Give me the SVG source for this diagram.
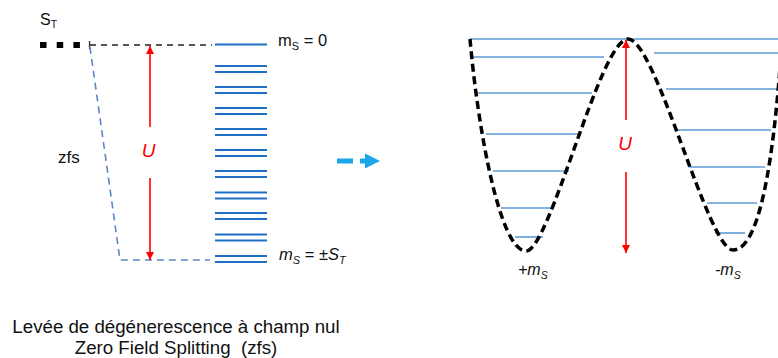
<svg xmlns="http://www.w3.org/2000/svg" width="778" height="358" viewBox="0 0 778 358">
<defs>
<style>
text{font-family:"Liberation Sans",Arial,sans-serif;fill:#111}
.lvl{stroke:#1f6fc4;stroke-width:1.8}
.rl{stroke:#5b9bd5;stroke-width:1.6}
.red{stroke:#ff0000;stroke-width:1.6;fill:none}
.it{font-style:italic}
</style>
<marker id="rh" viewBox="0 0 10 10" refX="10" refY="5" markerWidth="10" markerHeight="8" markerUnits="userSpaceOnUse" orient="auto">
<path d="M0,0 L10,5 L0,10 z" fill="#ff0000"/>
</marker>
</defs>
<rect width="778" height="358" fill="#ffffff"/>

<g id="st-label">
<text x="40" y="25" font-size="16">S<tspan font-size="10.5" dy="3">T</tspan></text>
</g>

<g id="connectors">
<line x1="40" y1="45" x2="81" y2="45" stroke="#000" stroke-width="6" stroke-dasharray="6.5 10.2"/>
<line x1="89.5" y1="41" x2="89.5" y2="49" stroke="#333" stroke-width="1.3"/>
<line x1="90" y1="45" x2="212" y2="45" stroke="#222" stroke-width="1.6" stroke-dasharray="6 5"/>
<polyline points="90,47 120,260 210,260" fill="none" stroke="#5b87c8" stroke-width="1.6" stroke-dasharray="7 5"/>
<line class="red" x1="150" y1="127" x2="150" y2="46" marker-end="url(#rh)"/>
<line class="red" x1="150" y1="178" x2="150" y2="260" marker-end="url(#rh)"/>
<line class="red" x1="626" y1="120" x2="626" y2="40" marker-end="url(#rh)"/>
<line class="red" x1="626" y1="172" x2="626" y2="253" marker-end="url(#rh)"/>
</g>

<g id="zfs-label"><text x="58" y="163" font-size="17">zfs</text></g>
<g id="u-left"><text class="it" x="148.5" y="157" font-size="19" text-anchor="middle" style="fill:#ff0000">U</text></g>

<g id="levels">
<line class="lvl" x1="215" y1="44.5" x2="267" y2="44.5"/>
<line class="lvl" x1="215" y1="66" x2="267" y2="66"/><line class="lvl" x1="215" y1="72" x2="267" y2="72"/>
<line class="lvl" x1="215" y1="87" x2="267" y2="87"/><line class="lvl" x1="215" y1="93" x2="267" y2="93"/>
<line class="lvl" x1="215" y1="108" x2="267" y2="108"/><line class="lvl" x1="215" y1="114" x2="267" y2="114"/>
<line class="lvl" x1="215" y1="129" x2="267" y2="129"/><line class="lvl" x1="215" y1="135" x2="267" y2="135"/>
<line class="lvl" x1="215" y1="150" x2="267" y2="150"/><line class="lvl" x1="215" y1="156" x2="267" y2="156"/>
<line class="lvl" x1="215" y1="171" x2="267" y2="171"/><line class="lvl" x1="215" y1="177" x2="267" y2="177"/>
<line class="lvl" x1="215" y1="192.5" x2="267" y2="192.5"/><line class="lvl" x1="215" y1="198.5" x2="267" y2="198.5"/>
<line class="lvl" x1="215" y1="213" x2="267" y2="213"/><line class="lvl" x1="215" y1="219" x2="267" y2="219"/>
<line class="lvl" x1="215" y1="234.5" x2="267" y2="234.5"/><line class="lvl" x1="215" y1="240.5" x2="267" y2="240.5"/>
<line class="lvl" x1="215" y1="256" x2="267" y2="256"/><line class="lvl" x1="215" y1="262" x2="267" y2="262"/>
</g>

<g id="ms0"><text x="278" y="46" font-size="16.5">m<tspan font-size="11" dy="4">S</tspan><tspan dy="-4"> = 0</tspan></text></g>
<g id="msST"><text x="279" y="260" font-size="16.5"><tspan class="it">m</tspan><tspan class="it" font-size="11" dy="4">S</tspan><tspan dy="-4"> = ±</tspan><tspan class="it">S</tspan><tspan class="it" font-size="11" dy="4">T</tspan></text></g>

<g id="transition-arrow">
<line x1="337" y1="161" x2="366" y2="161" stroke="#1aa7ea" stroke-width="5" stroke-dasharray="16 7"/>
<polygon points="365,153.5 380,161 365,168.5" fill="#1aa7ea"/>
</g>

<g id="well-levels">
<line class="rl" x1="470" y1="39" x2="778" y2="39"/>
<line class="rl" x1="473" y1="57" x2="604" y2="57"/>
<line class="rl" x1="478" y1="93" x2="592" y2="93"/>
<line class="rl" x1="486" y1="134" x2="580" y2="134"/>
<line class="rl" x1="493" y1="171" x2="569" y2="171"/>
<line class="rl" x1="501" y1="208" x2="551" y2="208"/>
<line class="rl" x1="515" y1="237" x2="543" y2="237"/>
<line class="rl" x1="654" y1="53" x2="778" y2="53"/>
<line class="rl" x1="666" y1="89" x2="778" y2="89"/>
<line class="rl" x1="677" y1="130" x2="771" y2="130"/>
<line class="rl" x1="689" y1="167" x2="765" y2="167"/>
<line class="rl" x1="707" y1="203" x2="757" y2="203"/>
<line class="rl" x1="715" y1="233" x2="745" y2="233"/>
</g>

<g id="double-well">
<path d="M470,39 C478,130 500,251 526,251 C550,251 600,39 628,39 C656,39 708,250 733,250 C765,250 776,120 781,55" fill="none" stroke="#000" stroke-width="3.5" stroke-dasharray="8 4.5"/>
</g>

<g id="u-right"><text class="it" x="625" y="150" font-size="19" text-anchor="middle" style="fill:#ff0000">U</text></g>
<g id="plus-ms"><text class="it" x="518" y="275" font-size="16">+m<tspan font-size="10.5" dy="4">S</tspan></text></g>
<g id="minus-ms"><text class="it" x="715" y="275" font-size="16">-m<tspan font-size="10.5" dy="4">S</tspan></text></g>

<g id="caption">
<text x="176" y="333" font-size="18.7" text-anchor="middle">Levée de dégénerescence à champ nul</text>
<text x="176" y="354" font-size="18.7" text-anchor="middle">Zero Field Splitting&#160; (zfs)</text>
</g>
</svg>
